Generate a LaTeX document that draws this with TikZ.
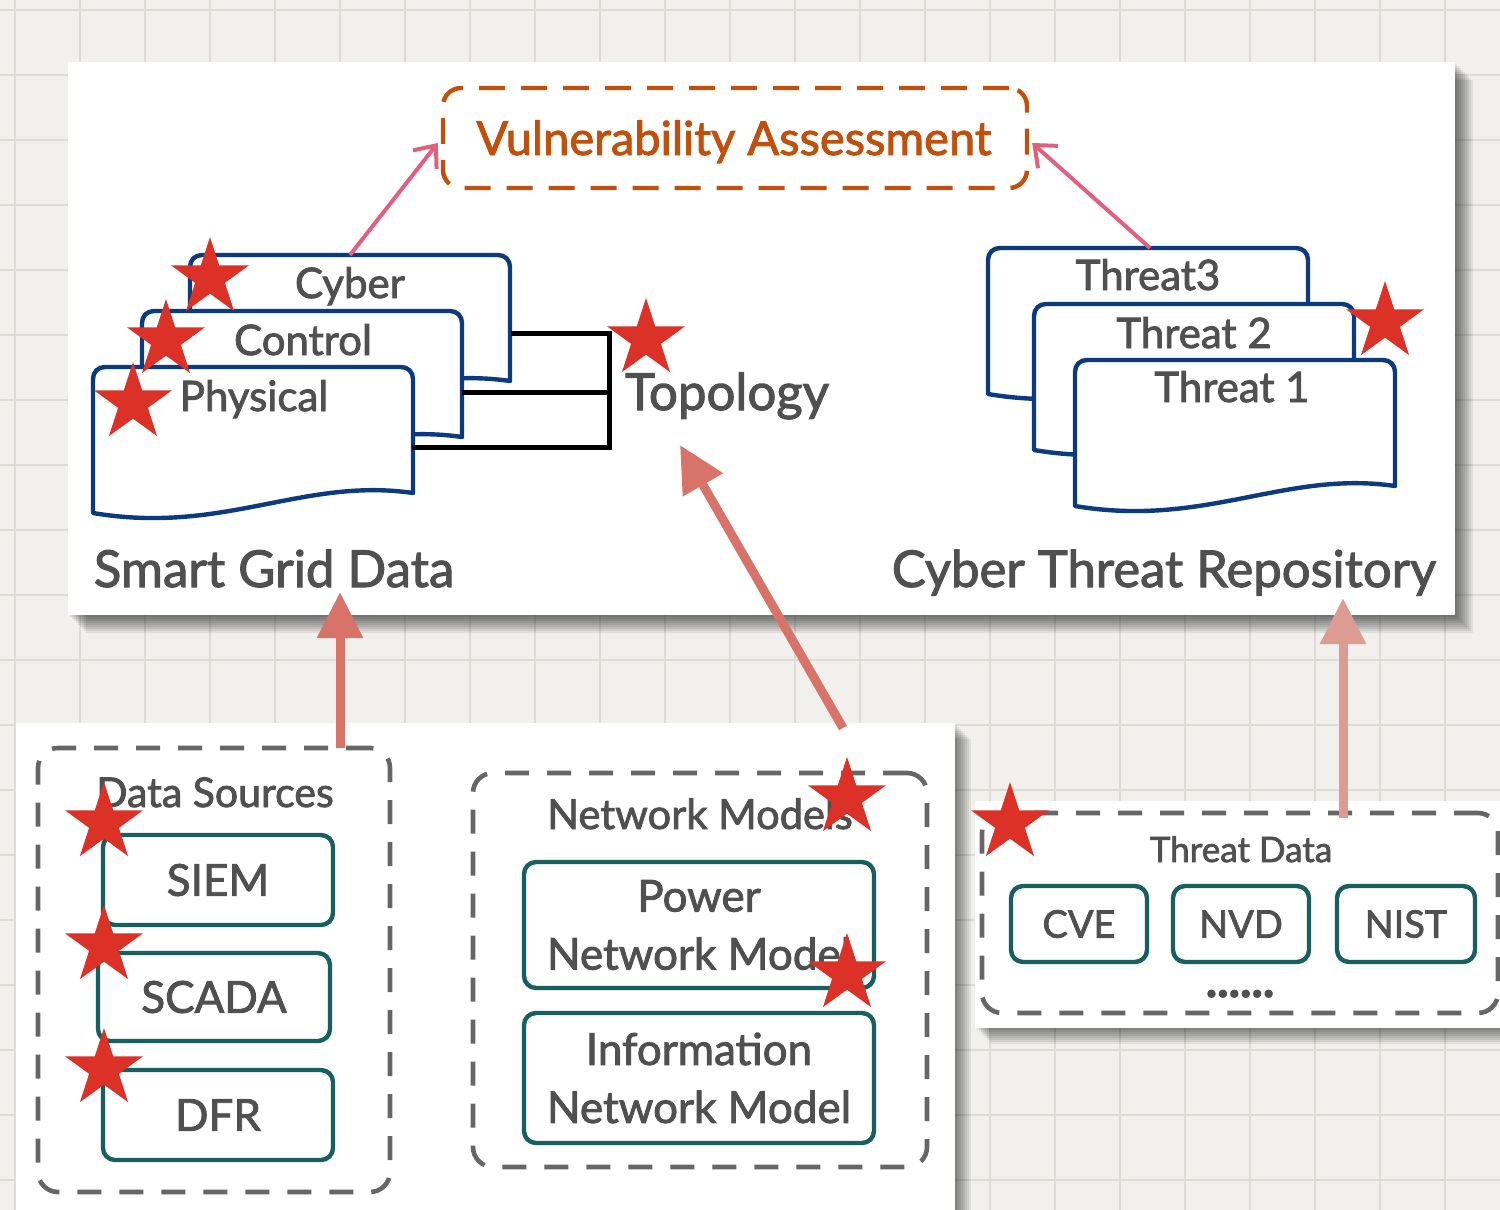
\documentclass[tikz,border=0pt]{standalone}
\usepackage{fontspec}
\setmainfont{Lato}[FakeBold=2]
\usetikzlibrary{shapes.geometric,arrows.meta}
\definecolor{bgpaper}{HTML}{F1F0EC}
\definecolor{gridc}{HTML}{DDDBD6}
\definecolor{navy}{HTML}{0B3B7E}
\definecolor{tealc}{HTML}{17605F}
\definecolor{grayd}{HTML}{666666}
\definecolor{txt}{HTML}{505050}
\definecolor{vaor}{HTML}{C0500C}
\definecolor{pinkc}{HTML}{E0607E}
\definecolor{salmon}{HTML}{D8736A}
\definecolor{salmonl}{HTML}{DC9C93}
\definecolor{starc}{HTML}{DC3127}
\tikzset{
  docpic/.pic={
    \path[docline] (0,146) -- (0,12) .. controls (0,5) and (5,0) .. (12,0) -- (308,0)
      .. controls (315,0) and (320,5) .. (320,12) -- (320,126)
      .. controls (210,110) and (130,168) .. (0,146) -- cycle;
  }
}
\begin{document}
\begin{tikzpicture}[x=0.5pt,y=-0.5pt,
  docline/.style={draw=navy, line width=2.2pt, fill=white, line join=round},
  tbox/.style={draw=tealc, line width=2.2pt, rounded corners=6pt, fill=white, text=txt, align=center, inner sep=0pt},
  gbox/.style={draw=grayd, line width=2.3pt, dash pattern=on 12pt off 9pt, rounded corners=10pt, inner sep=0pt},
  lbl/.style={text=txt, inner sep=0pt, anchor=base},
  redstar/.style={star, star points=5, star point ratio=2.618, fill=starc, draw=none, inner sep=0pt, minimum size=41pt},
  bigarrow/.style={line width=4.5pt, -{Triangle[length=23pt,width=22pt]}},
  thinarrow/.style={draw=pinkc, line width=2pt, -{Straight Barb[length=9pt,width=15pt]}},
  bracket/.style={draw=black, line width=2.5pt},
]
\useasboundingbox (0,0) rectangle (1500,1210);
% paper background
\fill[bgpaper] (0,0) rectangle (1500,1210);
\foreach \x in {15,80,...,1500} \draw[gridc, line width=0.6pt] (\x,0) -- (\x,1210);
\foreach \y in {10,75,...,1210} \draw[gridc, line width=0.6pt] (0,\y) -- (1500,\y);

% panels with shadows
\foreach \d in {2,4,...,18} \fill[black, opacity=0.075] (68+\d,62+\d) rectangle (1455+\d,615+\d);
\fill[white] (68,62) rectangle (1455,615);
\foreach \d in {2,4,...,16} \fill[black, opacity=0.07] (16+\d,723+\d) rectangle (955+\d,1230);
\fill[white] (16,723) rectangle (955,1230);
\foreach \d in {2,4,...,16} \fill[black, opacity=0.07] (975+\d,801+\d) rectangle (1520,1028+\d);
\fill[white] (975,801) rectangle (1520,1028);

% Vulnerability assessment
\node[draw=vaor, line width=2.2pt, dash pattern=on 13pt off 8pt, rounded corners=9pt,
      minimum width=292pt, minimum height=50pt, inner sep=0pt] (va) at (735,138) {};
\node[lbl, text=vaor, font=\fontsize{23.5}{28}\selectfont] (vatxt) at (734,155) {Vulnerability Assessment};

% smart grid data documents
\pic at (190,255) {docpic};
\pic at (142,311) {docpic};
\pic at (93,367) {docpic};
\node[lbl, font=\fontsize{21}{25}\selectfont] (cyber) at (350,298) {Cyber};
\node[lbl, font=\fontsize{21}{25}\selectfont] (control) at (303,355) {Control};
\node[lbl, font=\fontsize{21}{25}\selectfont] (physical) at (254,411) {Physical};
\coordinate (cybtop) at (350,255);
\coordinate (cybr) at (511,333);
\coordinate (conr) at (462,392);
\coordinate (phyr) at (412,447);
\coordinate (bt) at (609,333);
\coordinate (bm) at (609,392);
\coordinate (bb) at (609,447);
\draw[bracket] (cybr) -- (bt) -- (bm) -- (bb) -- (phyr);
\draw[bracket] (conr) -- (bm);
\node[lbl, font=\fontsize{25.5}{30}\selectfont] (topo) at (727,410) {Topology};
\node[lbl, font=\fontsize{25.5}{30}\selectfont] (sgd) at (274,587) {Smart Grid Data};

% threat documents
\pic at (988,248) {docpic};
\pic at (1034,304) {docpic};
\pic at (1075,360) {docpic};
\node[lbl, font=\fontsize{21}{25}\selectfont] (t3) at (1148,290) {Threat3};
\node[lbl, font=\fontsize{21}{25}\selectfont] (t2) at (1194,348) {Threat 2};
\node[lbl, font=\fontsize{21}{25}\selectfont] (t1) at (1232,402) {Threat 1};
\coordinate (t3top) at (1150,248);
\node[lbl, font=\fontsize{25.4}{30}\selectfont] (ctr) at (1164,587) {Cyber Threat Repository};

% thin arrows to VA
\draw[thinarrow] (cybtop) -- ([xshift=-1.5pt,yshift=-2.5pt]va.west);
\draw[thinarrow] (t3top) -- ([xshift=1.5pt,yshift=-2.5pt]va.east);

% data sources
\node[gbox, minimum width=176pt, minimum height=222pt] (ds) at (214,970) {};
\node[lbl, font=\fontsize{20.5}{24}\selectfont] (dstitle) at (215,807) {Data Sources};
\node[tbox, minimum width=115pt, minimum height=45pt, font=\fontsize{22}{26}\selectfont] (siem) at (218,880) {SIEM};
\node[tbox, minimum width=116pt, minimum height=44pt, font=\fontsize{22}{26}\selectfont] (scada) at (214,997) {SCADA};
\node[tbox, minimum width=115pt, minimum height=45pt, font=\fontsize{22}{26}\selectfont] (dfr) at (218,1115) {DFR};

% network models
\node[gbox, minimum width=227pt, minimum height=197pt] (nm) at (700,970) {};
\node[lbl, font=\fontsize{20.8}{24}\selectfont] (nmtitle) at (700,829) {Network Models};
\node[tbox, minimum width=175pt, minimum height=63pt, font=\fontsize{22}{29}\selectfont] (pnm) at (699,925) {Power\\Network Model};
\node[tbox, minimum width=175pt, minimum height=65pt, font=\fontsize{22}{29}\selectfont] (inm) at (699,1078) {Information\\Network Model};

% threat data
\node[gbox, minimum width=258pt, minimum height=100pt] (td) at (1240,913) {};
\node[lbl, font=\fontsize{17.5}{20}\selectfont] (tdtitle) at (1241,862) {Threat Data};
\node[tbox, minimum width=68pt, minimum height=38pt, font=\fontsize{19}{22}\selectfont] (cve) at (1079,924) {CVE};
\node[tbox, minimum width=68pt, minimum height=38pt, font=\fontsize{19}{22}\selectfont] (nvd) at (1241,924) {NVD};
\node[tbox, minimum width=69pt, minimum height=38pt, font=\fontsize{19}{22}\selectfont] (nist) at (1406,924) {NIST};
\node[lbl, font=\fontsize{24}{26}\bfseries] (dots) at (1240,997) {......};

% big arrows
\coordinate (a1s) at (340,748);
\coordinate (a1e) at (340,592);
\coordinate (a2s) at (843,728);
\coordinate (a2e) at (680,445);
\coordinate (a3s) at (1343,818);
\coordinate (a3e) at (1343,598);
\draw[bigarrow, salmon] (a1s) -- (a1e);
\draw[bigarrow, salmon] (a2s) -- (a2e);
\draw[bigarrow, salmonl] (a3s) -- (a3e);

% stars
\node[redstar] (s1) at (210,278) {};
\node[redstar] (s2) at (166,340) {};
\node[redstar] (s3) at (133,403) {};
\node[redstar] (s4) at (646,339) {};
\node[redstar] (s5) at (1385,322) {};
\node[redstar] (s6) at (104,823) {};
\node[redstar] (s7) at (104,946) {};
\node[redstar] (s8) at (104,1069) {};
\node[redstar] (s9) at (847,798) {};
\node[redstar] (s10) at (847,974) {};
\node[redstar] (s11) at (1010,823) {};
\end{tikzpicture}
\end{document}
